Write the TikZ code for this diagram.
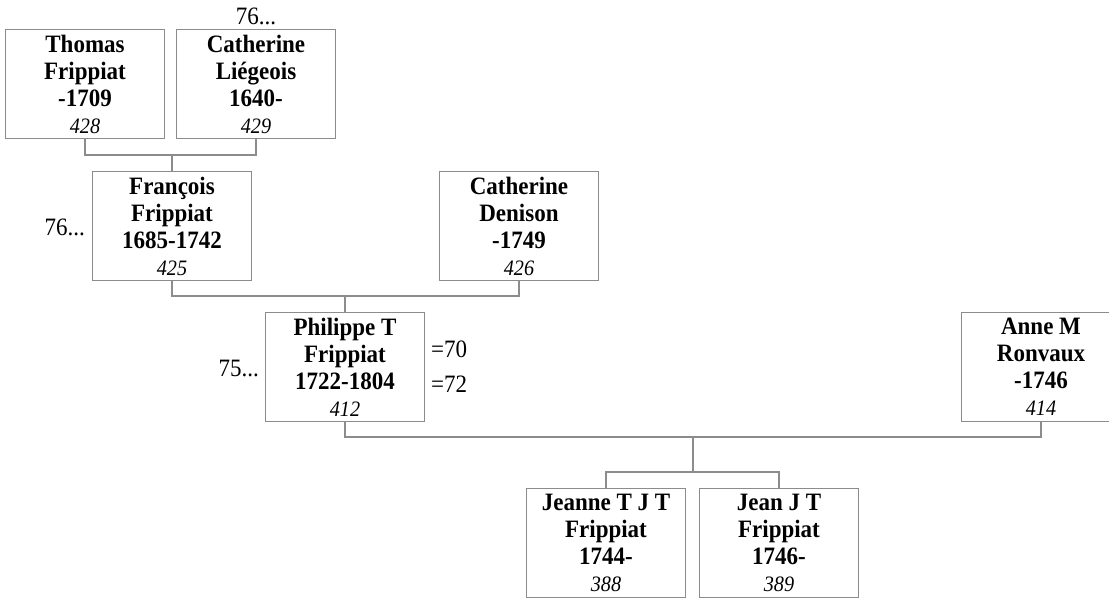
\documentclass[tikz,border=0pt]{standalone}
\usepackage{fontspec}
\setmainfont{Liberation Serif}[FakeStretch=0.92]
\usepackage{tikz}
\usetikzlibrary{positioning,calc}

\definecolor{linegray}{HTML}{8C8C8C}
\newcommand{\refno}[1]{{\mdseries\itshape\fontsize{22}{24}\selectfont #1}}

\begin{document}
\begin{tikzpicture}[x=1pt,y=-1pt,
    person/.style={draw=linegray,line width=1.3pt,minimum width=159pt,minimum height=109pt,
      inner sep=0pt,align=center,font=\fontsize{25}{27}\selectfont\bfseries},
    note/.style={inner sep=0pt,font=\fontsize{25}{26}\selectfont},
    link/.style={linegray,line width=1.3pt}]
    \useasboundingbox (0,0) rectangle (1109,599);

    % Grandparents
    \node[person] (thomas) at (85,84) {Thomas\\Frippiat\\-1709\\\refno{428}};
    \node[person] (cathl) at (256,84) {Catherine\\Liégeois\\1640-\\\refno{429}};
    \node[note,anchor=base] (g2) at (256,25) {76...};

    % Parents
    \node[person] (francois) at (172,226) {François\\Frippiat\\1685-1742\\\refno{425}};
    \node[person] (denison) at (519,226) {Catherine\\Denison\\-1749\\\refno{426}};
    \node[note,anchor=base east] (g1) at (85,235) {76...};

    % Philippe and wife
    \node[person] (philippe) at (345,367) {Philippe T\\Frippiat\\1722-1804\\\refno{412}};
    \node[person] (anne) at (1041,367) {Anne M\\Ronvaux\\-1746\\\refno{414}};
    \node[note,anchor=base east] (g0) at (259,376) {75...};
    \node[note,anchor=base west] (m1) at (431,357) {=70};
    \node[note,anchor=base west] (m2) at (431,392) {=72};

    % Children
    \node[person] (jeanne) at (606,543) {Jeanne T J T\\Frippiat\\1744-\\\refno{388}};
    \node[person] (jean) at (779,543) {Jean J T\\Frippiat\\1746-\\\refno{389}};

    % Family lines
    \coordinate (j1) at (172,155);
    \coordinate (j2) at (345,296);
    \coordinate (j3) at (693,437);
    \coordinate (j4) at (693,472);
    \draw[link] (thomas.south) |- (j1) -| (cathl.south);
    \draw[link] (j1) -- (francois.north);
    \draw[link] (francois.south) |- (j2) -| (denison.south);
    \draw[link] (j2) -- (philippe.north);
    \draw[link] (philippe.south) |- (j3) -| (anne.south);
    \draw[link] (j3) -- (j4);
    \draw[link] (jeanne.north) |- (j4) -| (jean.north);
\end{tikzpicture}
\end{document}
